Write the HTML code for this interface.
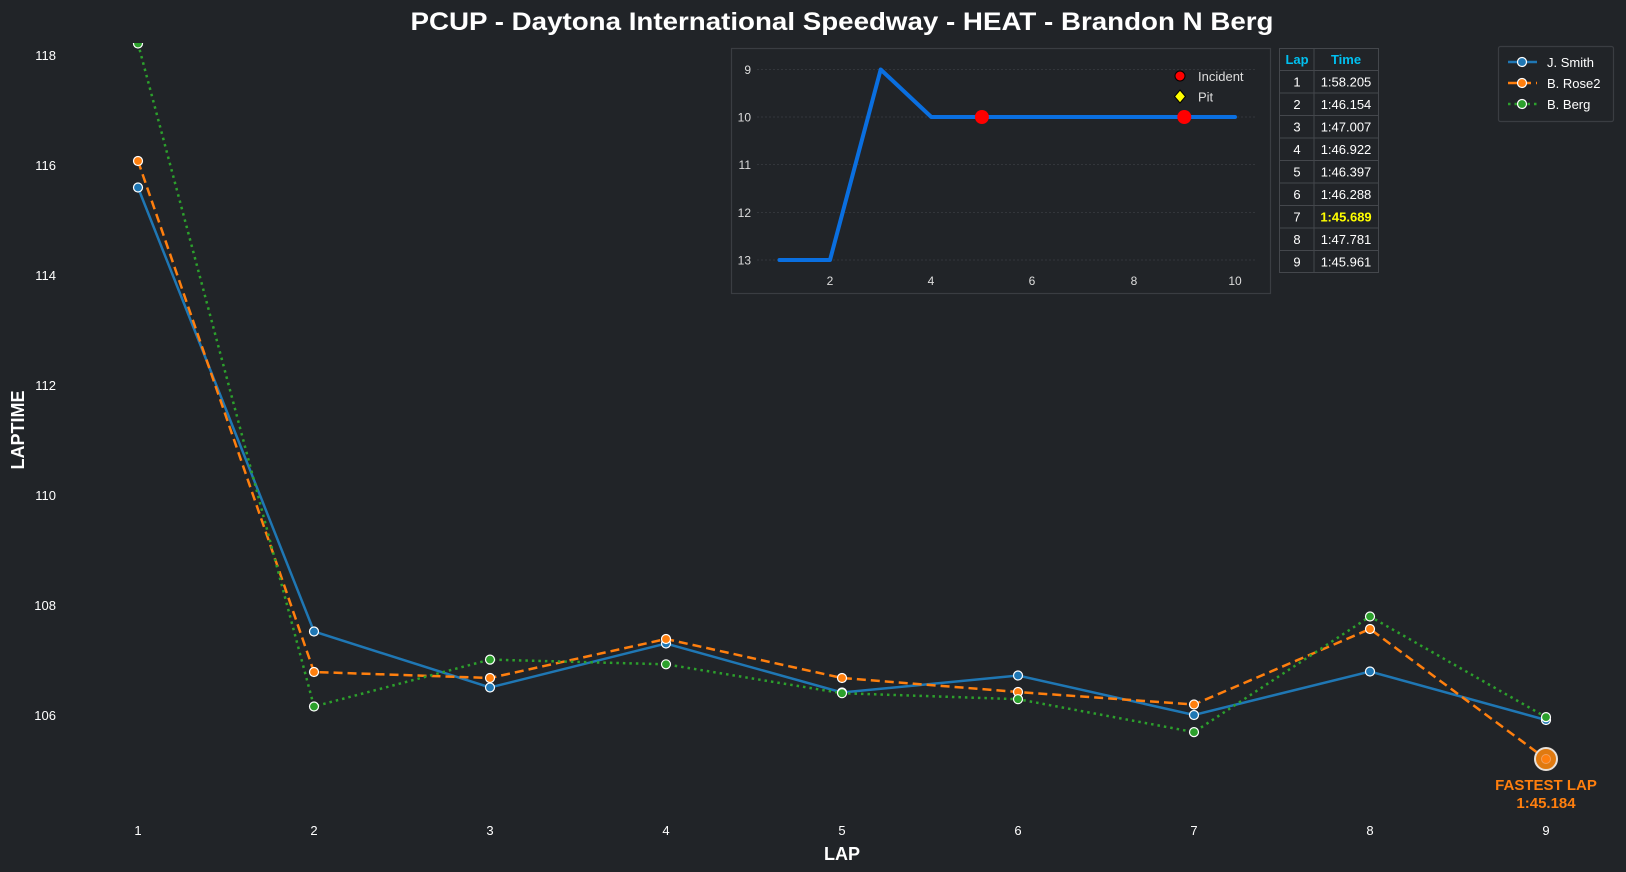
<!DOCTYPE html>
<html><head><meta charset="utf-8"><style>
html,body{margin:0;padding:0;background:#212428;}
svg{display:block;font-family:"Liberation Sans",Arial,sans-serif;}
</style></head><body>
<svg width="1626" height="872" viewBox="0 0 1626 872" xmlns="http://www.w3.org/2000/svg">
<rect width="1626" height="872" fill="#212428"/>
<text x="842" y="30" text-anchor="middle" font-size="25" font-weight="bold" fill="#ffffff" textLength="863" lengthAdjust="spacingAndGlyphs">PCUP - Daytona International Speedway - HEAT - Brandon N Berg</text>
<g font-size="13" fill="#ffffff" text-anchor="end">
<text x="56" y="60">118</text><text x="56" y="170">116</text><text x="56" y="280">114</text>
<text x="56" y="390">112</text><text x="56" y="500">110</text><text x="56" y="610">108</text><text x="56" y="720">106</text>
</g>
<g font-size="13" fill="#ffffff" text-anchor="middle">
<text x="138" y="835">1</text><text x="314" y="835">2</text><text x="490" y="835">3</text><text x="666" y="835">4</text>
<text x="842" y="835">5</text><text x="1018" y="835">6</text><text x="1194" y="835">7</text><text x="1370" y="835">8</text><text x="1546" y="835">9</text>
</g>
<text x="842" y="860" text-anchor="middle" font-size="18" font-weight="bold" fill="#fff">LAP</text>
<text transform="translate(24,430) rotate(-90)" text-anchor="middle" font-size="18" font-weight="bold" fill="#fff">LAPTIME</text>
<defs><clipPath id="c"><rect x="0" y="43" width="1626" height="829"/></clipPath></defs>
<g clip-path="url(#c)">
<polyline fill="none" stroke="#1f77b4" stroke-width="2.5" points="138,187.5 314,631.5 490,687.5 666,643.5 842,692.5 1018,675.5 1194,715 1370,671.5 1546,720"/>
<polyline fill="none" stroke="#ff7f0e" stroke-width="2.5" stroke-dasharray="9,5" points="138,161 314,672 490,678 666,639 842,678 1018,692 1194,704.5 1370,629 1546,759"/>
<polyline fill="none" stroke="#2ca02c" stroke-width="2.5" stroke-dasharray="2.5,4" points="138,43.5 314,706.5 490,659.6 666,664.3 842,693.2 1018,699.2 1194,732.1 1370,616.5 1546,717.1"/>
<g stroke="#fff" stroke-width="1.2">
<g fill="#1f77b4"><circle cx="138" cy="187.5" r="4.5"/><circle cx="314" cy="631.5" r="4.5"/><circle cx="490" cy="687.5" r="4.5"/><circle cx="666" cy="643.5" r="4.5"/><circle cx="842" cy="692.5" r="4.5"/><circle cx="1018" cy="675.5" r="4.5"/><circle cx="1194" cy="715" r="4.5"/><circle cx="1370" cy="671.5" r="4.5"/><circle cx="1546" cy="720" r="4.5"/></g>
<g fill="#ff7f0e"><circle cx="138" cy="161" r="4.5"/><circle cx="314" cy="672" r="4.5"/><circle cx="490" cy="678" r="4.5"/><circle cx="666" cy="639" r="4.5"/><circle cx="842" cy="678" r="4.5"/><circle cx="1018" cy="692" r="4.5"/><circle cx="1194" cy="704.5" r="4.5"/><circle cx="1370" cy="629" r="4.5"/></g>
<g fill="#2ca02c"><circle cx="138" cy="43.5" r="4.5"/><circle cx="314" cy="706.5" r="4.5"/><circle cx="490" cy="659.6" r="4.5"/><circle cx="666" cy="664.3" r="4.5"/><circle cx="842" cy="693.2" r="4.5"/><circle cx="1018" cy="699.2" r="4.5"/><circle cx="1194" cy="732.1" r="4.5"/><circle cx="1370" cy="616.5" r="4.5"/><circle cx="1546" cy="717.1" r="4.5"/></g>
</g>
</g>
<circle cx="1546" cy="759" r="11" fill="#e07a10" stroke="#e8e0d8" stroke-width="2"/>
<circle cx="1546" cy="759" r="4.5" fill="#ff7f0e" stroke="#f0a060" stroke-width="1"/>
<text x="1546" y="790" text-anchor="middle" font-size="15" font-weight="bold" fill="#ff7f0e">FASTEST LAP</text>
<text x="1546" y="808" text-anchor="middle" font-size="15" font-weight="bold" fill="#ff7f0e">1:45.184</text>
<!-- inset -->
<rect x="731.5" y="48.5" width="539" height="245" fill="#212428" stroke="#3a3d42" stroke-width="1.2"/>
<g stroke="#3a3d42" stroke-width="0.8" stroke-dasharray="2,2">
<line x1="757" y1="69.5" x2="1256" y2="69.5"/><line x1="757" y1="117" x2="1256" y2="117"/><line x1="757" y1="164.5" x2="1256" y2="164.5"/><line x1="757" y1="212.5" x2="1256" y2="212.5"/><line x1="757" y1="260" x2="1256" y2="260"/>
</g>
<g font-size="12" fill="#dddddd" text-anchor="end">
<text x="751" y="74">9</text><text x="751" y="121.5">10</text><text x="751" y="169">11</text><text x="751" y="217">12</text><text x="751" y="264.5">13</text>
</g>
<g font-size="12" fill="#dddddd" text-anchor="middle">
<text x="830" y="285">2</text><text x="931" y="285">4</text><text x="1032" y="285">6</text><text x="1134" y="285">8</text><text x="1235" y="285">10</text>
</g>
<polyline fill="none" stroke="#0a6fe0" stroke-width="4" stroke-linejoin="round" stroke-linecap="round" points="779.5,260 830,260 880.7,69.5 931.3,117 981.9,117 1032.5,117 1083,117 1133.7,117 1184.3,117 1235,117"/>
<ellipse cx="981.9" cy="117" rx="7" ry="7" fill="#ff0000"/>
<ellipse cx="1184.3" cy="117" rx="7" ry="7" fill="#ff0000"/>
<circle cx="1180" cy="76" r="5" fill="#ff0000" stroke="#000" stroke-width="1"/>
<polygon points="1180,90 1185.5,96.5 1180,103 1174.5,96.5" fill="#ffff00" stroke="#000" stroke-width="1"/>
<text x="1198" y="81" font-size="13" fill="#dddddd">Incident</text>
<text x="1198" y="101.5" font-size="13" fill="#dddddd">Pit</text>
<!-- table -->
<g stroke="#44474c" stroke-width="1" fill="none">
<rect x="1279.5" y="48.5" width="99" height="224"/>
<line x1="1314" y1="48.5" x2="1314" y2="272.5"/>
<line x1="1279.5" y1="70.5" x2="1378.5" y2="70.5"/><line x1="1279.5" y1="93" x2="1378.5" y2="93"/><line x1="1279.5" y1="115.5" x2="1378.5" y2="115.5"/><line x1="1279.5" y1="138" x2="1378.5" y2="138"/><line x1="1279.5" y1="160.5" x2="1378.5" y2="160.5"/><line x1="1279.5" y1="183" x2="1378.5" y2="183"/><line x1="1279.5" y1="205.5" x2="1378.5" y2="205.5"/><line x1="1279.5" y1="228" x2="1378.5" y2="228"/><line x1="1279.5" y1="250.5" x2="1378.5" y2="250.5"/>
</g>
<g font-size="13" text-anchor="middle">
<text x="1297" y="64" fill="#00c0f0" font-weight="bold">Lap</text><text x="1346" y="64" fill="#00c0f0" font-weight="bold">Time</text>
<g fill="#ffffff">
<text x="1297" y="86.5">1</text><text x="1346" y="86.5">1:58.205</text>
<text x="1297" y="109">2</text><text x="1346" y="109">1:46.154</text>
<text x="1297" y="131.5">3</text><text x="1346" y="131.5">1:47.007</text>
<text x="1297" y="154">4</text><text x="1346" y="154">1:46.922</text>
<text x="1297" y="176.5">5</text><text x="1346" y="176.5">1:46.397</text>
<text x="1297" y="199">6</text><text x="1346" y="199">1:46.288</text>
<text x="1297" y="221.5">7</text>
<text x="1297" y="244">8</text><text x="1346" y="244">1:47.781</text>
<text x="1297" y="266.5">9</text><text x="1346" y="266.5">1:45.961</text>
</g>
<text x="1346" y="221.5" fill="#ffff00" font-weight="bold">1:45.689</text>
</g>
<!-- legend -->
<rect x="1498.5" y="46.5" width="115" height="75" rx="2" fill="#212428" stroke="#3a3d42" stroke-width="1.2"/>
<line x1="1508" y1="62" x2="1537" y2="62" stroke="#1f77b4" stroke-width="2.5"/>
<circle cx="1522" cy="62" r="4.5" fill="#1f77b4" stroke="#fff" stroke-width="1.2"/>
<line x1="1508" y1="83" x2="1537" y2="83" stroke="#ff7f0e" stroke-width="2.5" stroke-dasharray="9,5"/>
<circle cx="1522" cy="83" r="4.5" fill="#ff7f0e" stroke="#fff" stroke-width="1.2"/>
<line x1="1508" y1="104" x2="1537" y2="104" stroke="#2ca02c" stroke-width="2.5" stroke-dasharray="2.5,4"/>
<circle cx="1522" cy="104" r="4.5" fill="#2ca02c" stroke="#fff" stroke-width="1.2"/>
<g font-size="13" fill="#ffffff">
<text x="1547" y="67">J. Smith</text><text x="1547" y="88">B. Rose2</text><text x="1547" y="109">B. Berg</text>
</g>
</svg>
</body></html>
